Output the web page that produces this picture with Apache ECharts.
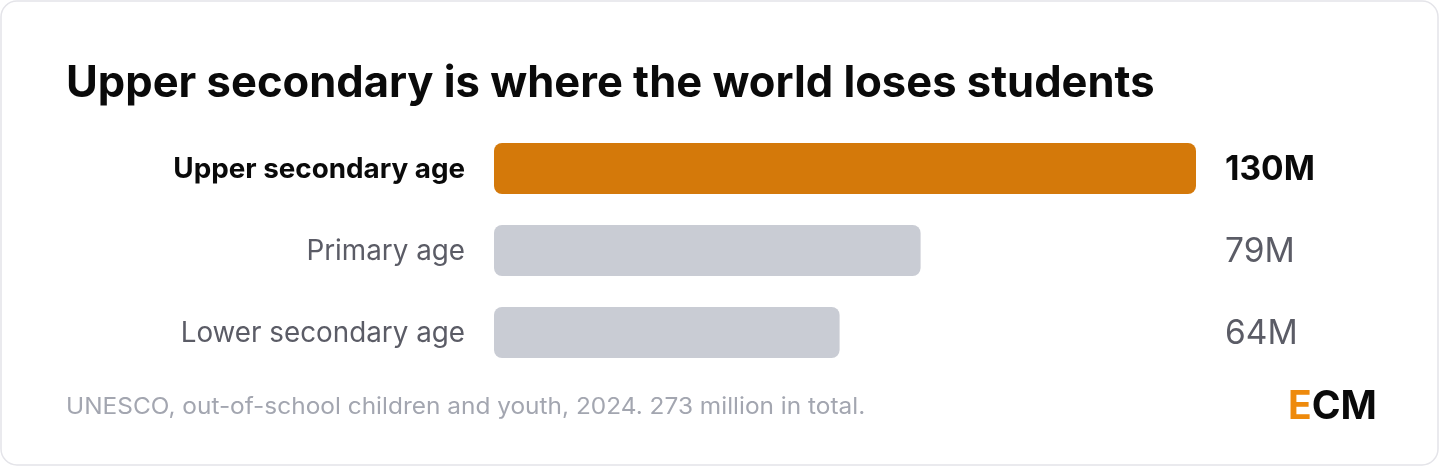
<!DOCTYPE html>
<html><head><meta charset="utf-8">
<script src="https://cdn.jsdelivr.net/npm/echarts@6/dist/echarts.min.js"></script>
<style>html,body{margin:0;padding:0;background:#fff}#c{width:1440px;height:467px}</style>
</head><body><div id="c"></div>
<script>
const categories = ['Upper secondary age', 'Primary age', 'Lower secondary age'];
const values = [130, 79, 64];
const valueLabels = ['130M', '79M', '64M'];
const highlightIndex = 0;
const titleText = 'Upper secondary is where the world loses students';
const footerText = 'UNESCO, out-of-school children and youth, 2024. 273 million in total.';

const FONT = 'Inter, "Noto Sans", sans-serif';
const chart = echarts.init(document.getElementById('c'), null, {renderer: 'canvas'});
const catRev = categories.slice().reverse();
const valRev = values.slice().reverse();
const labRev = valueLabels.slice().reverse();
const hiRev = categories.length - 1 - highlightIndex;

chart.setOption({
  animation: false,
  graphic: [
    {type: 'rect', z: -10, shape: {x: 1, y: 1, width: 1437, height: 464, r: 16},
     style: {fill: '#fff', stroke: '#e4e4e9', lineWidth: 1.5}},
    {type: 'text', left: 66, top: 62, style: {text: titleText, font: 'bold 43.5px ' + FONT, fill: '#0a0a0a'}},
    {type: 'text', x: 66, y: 396, scaleX: 1.062, style: {text: footerText, font: '23px ' + FONT, fill: '#a3a6b0'}},
    {type: 'text', left: 1288, top: 388, style: {
      text: '{e|E}{cm|CM}',
      rich: {e: {font: 'bold 39px ' + FONT, fill: '#ee8a0c'}, cm: {font: 'bold 39px ' + FONT, fill: '#0a0a0a'}}
    }}
  ],
  grid: {left: 494, right: 244, top: 127.5, bottom: 93.5, containLabel: false},
  xAxis: {type: 'value', min: 0, max: 130, show: false},
  yAxis: [
    {type: 'category', data: catRev, axisLine: {show: false}, axisTick: {show: false},
     axisLabel: {margin: 29, padding: [3, 0, 0, 0], formatter: (v, i) => i === hiRev ? '{b|' + v + '}' : '{n|' + v + '}',
       rich: {b: {fontFamily: FONT, fontSize: 27.8, fontWeight: 'bold', color: '#0a0a0a'},
              n: {fontFamily: FONT, fontSize: 27.8, color: '#5b5c66'}}}},
    {type: 'category', position: 'right', data: labRev, axisLine: {show: false}, axisTick: {show: false},
     axisLabel: {margin: 29, align: 'left', padding: [3, 0, 0, 0], formatter: (v, i) => i === hiRev ? '{b|' + v + '}' : '{n|' + v + '}',
       rich: {b: {fontFamily: FONT, fontSize: 33.5, fontWeight: 'bold', color: '#0a0a0a'},
              n: {fontFamily: FONT, fontSize: 33.5, color: '#5b5c66'}}}}
  ],
  series: [{
    type: 'bar', barWidth: 51,
    data: valRev.map((v, i) => ({value: v, itemStyle: {color: i === hiRev ? '#d4790a' : '#c9ccd4', borderRadius: 8}})),
    silent: true
  }]
});
</script></body></html>
